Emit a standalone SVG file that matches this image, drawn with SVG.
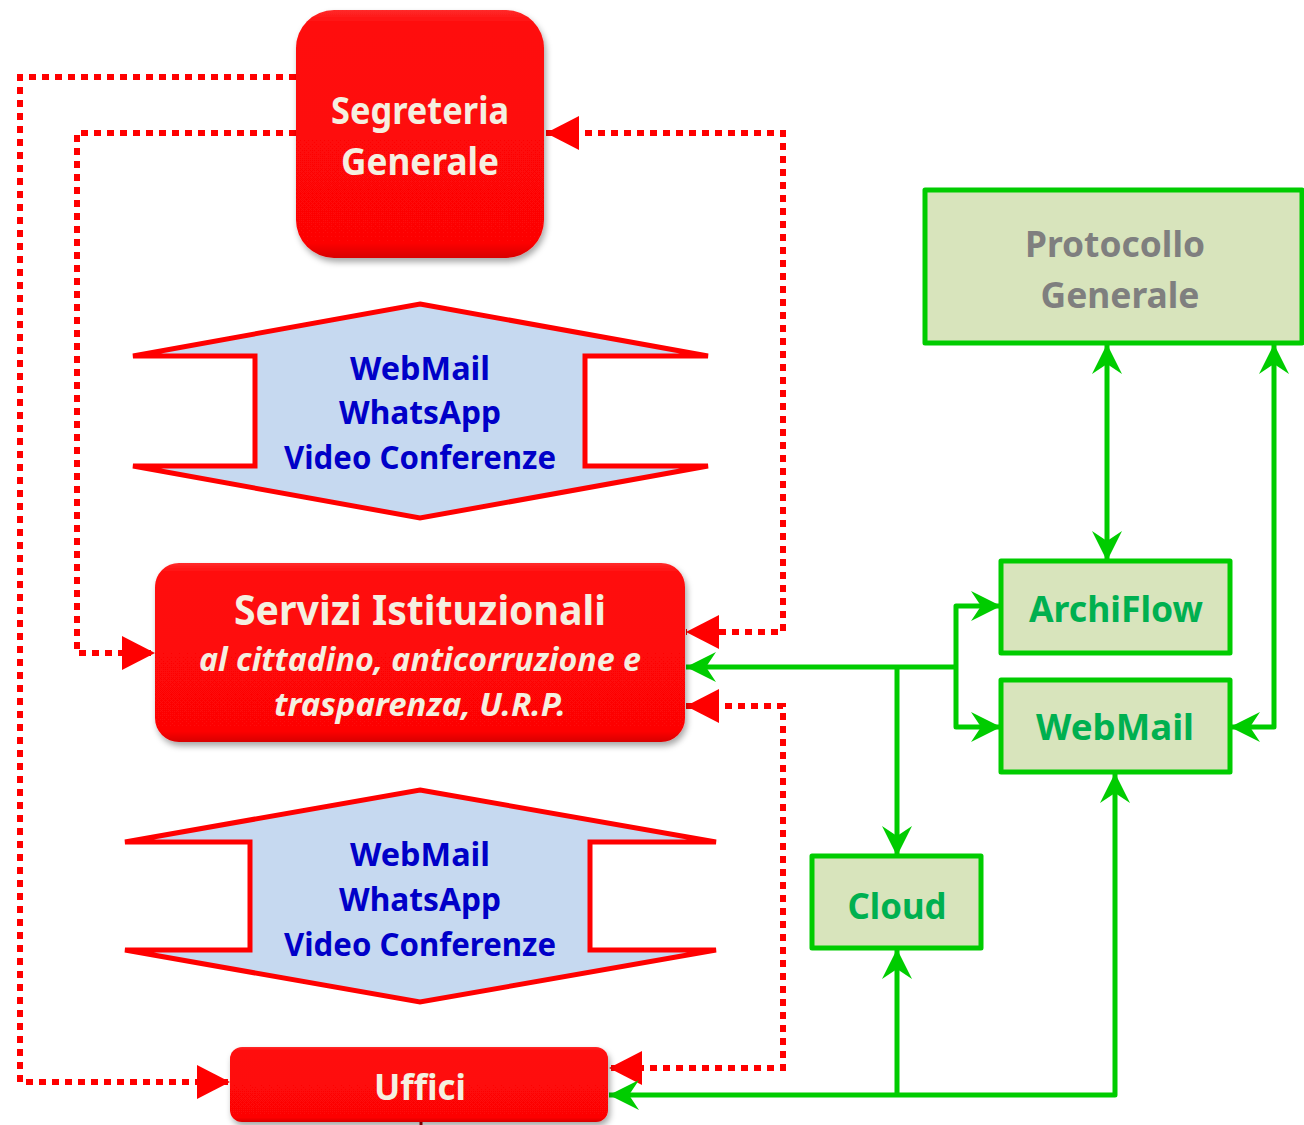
<svg xmlns="http://www.w3.org/2000/svg" width="1304" height="1125" viewBox="0 0 1304 1125">
  <style>
    .red-link { fill: none; stroke: #ff0000; stroke-width: 6; stroke-dasharray: 7 6; }
    .green-link { fill: none; stroke: #00cc00; stroke-width: 5; stroke-linejoin: round; }
    .red-box { fill: url(#redFill); filter: url(#shadow); }
    .green-box { fill: #d8e4bc; stroke: #00cc00; stroke-width: 5; stroke-linejoin: round; }
    .channel { fill: #c6d9f0; stroke: #ff0000; stroke-width: 5; }
    .t { font-family: "Noto Sans", "Open Sans", sans-serif; font-weight: bold; text-anchor: middle; }
    .cream { fill: #f5efe0; }
    .blue { fill: #0000c8; }
    .green { fill: #00b050; }
    .grey { fill: #7f7f7f; }
    .it { font-style: italic; }
  </style>
  <defs>
    <linearGradient id="redFill" x1="0" y1="0" x2="0" y2="1">
      <stop offset="0" stop-color="#ff2a2a"/>
      <stop offset="0.06" stop-color="#ff0808"/>
      <stop offset="0.94" stop-color="#fd0606"/>
      <stop offset="1" stop-color="#d80000"/>
    </linearGradient>
    <filter id="shadow" x="-10%" y="-10%" width="125%" height="130%">
      <feDropShadow dx="2" dy="4" stdDeviation="3" flood-color="#000" flood-opacity="0.35"/>
    </filter>
    <marker id="redHead" markerUnits="userSpaceOnUse" viewBox="-34 -18 36 36" refX="0" refY="0" markerWidth="36" markerHeight="36" orient="auto-start-reverse">
      <path d="M0,0 L-33,-17 L-33,17 Z" fill="#ff0000"/>
    </marker>
    <marker id="greenHead" markerUnits="userSpaceOnUse" viewBox="-32 -16 34 32" refX="0" refY="0" markerWidth="34" markerHeight="32" orient="auto-start-reverse">
      <path d="M0,0 L-30,-15 L-20,0 L-30,15 Z" fill="#00cc00"/>
    </marker>
  </defs>

  <!-- connectors -->
  <g id="connectors">
    <path class="red-link" d="M296,77 H20 V1082 H230" marker-end="url(#redHead)"/>
    <path class="red-link" d="M296,133 H77 V653 H155" marker-end="url(#redHead)"/>
    <path class="red-link" d="M546,133 H783 V632 H686" marker-start="url(#redHead)" marker-end="url(#redHead)"/>
    <path class="red-link" d="M686,706 H783 V1068 H609" marker-start="url(#redHead)" marker-end="url(#redHead)"/>

    <path class="green-link" d="M955,667 H686" marker-end="url(#greenHead)"/>
    <path class="green-link" d="M897,667 V856" marker-end="url(#greenHead)"/>
    <path class="green-link" d="M1001,606 H956 V727 H1001" marker-start="url(#greenHead)" marker-end="url(#greenHead)"/>
    <path class="green-link" d="M1107,561 V344" marker-start="url(#greenHead)" marker-end="url(#greenHead)"/>
    <path class="green-link" d="M1230,727 H1274 V344" marker-start="url(#greenHead)" marker-end="url(#greenHead)"/>
    <path class="green-link" d="M609,1095 H1115 V773" marker-start="url(#greenHead)" marker-end="url(#greenHead)"/>
    <path class="green-link" d="M897,1095 V949" marker-end="url(#greenHead)"/>
    <path d="M421,1120 V1125" stroke="#a00000" stroke-width="3"/>
  </g>

  <g id="segreteria">
    <rect class="red-box" x="296" y="10" width="248" height="248" rx="38"/>
    <text class="t cream" x="420" y="124" font-size="38" textLength="178" lengthAdjust="spacingAndGlyphs">Segreteria</text>
    <text class="t cream" x="420" y="175" font-size="38" textLength="158" lengthAdjust="spacingAndGlyphs">Generale</text>
  </g>

  <g id="canali-1">
    <polygon class="channel" points="420,304 708,356 585,356 585,466 708,466 420,518 133,466 255,466 255,356 133,356"/>
    <text class="t blue" x="420" y="380" font-size="32" textLength="140" lengthAdjust="spacingAndGlyphs">WebMail</text>
    <text class="t blue" x="420" y="424" font-size="32" textLength="162" lengthAdjust="spacingAndGlyphs">WhatsApp</text>
    <text class="t blue" x="420" y="469" font-size="32" textLength="272" lengthAdjust="spacingAndGlyphs">Video Conferenze</text>
  </g>

  <g id="servizi">
    <rect class="red-box" x="155" y="563" width="530" height="179" rx="24"/>
    <text class="t cream" x="420" y="625" font-size="42" textLength="372" lengthAdjust="spacingAndGlyphs">Servizi Istituzionali</text>
    <text class="t cream it" x="420" y="671" font-size="32" textLength="442" lengthAdjust="spacingAndGlyphs">al cittadino, anticorruzione e</text>
    <text class="t cream it" x="420" y="716" font-size="32" textLength="292" lengthAdjust="spacingAndGlyphs">trasparenza, U.R.P.</text>
  </g>

  <g id="canali-2">
    <polygon class="channel" points="420,790 716,842 590,842 590,950 716,950 420,1002 125,950 250,950 250,842 125,842"/>
    <text class="t blue" x="420" y="866" font-size="32" textLength="140" lengthAdjust="spacingAndGlyphs">WebMail</text>
    <text class="t blue" x="420" y="911" font-size="32" textLength="162" lengthAdjust="spacingAndGlyphs">WhatsApp</text>
    <text class="t blue" x="420" y="956" font-size="32" textLength="272" lengthAdjust="spacingAndGlyphs">Video Conferenze</text>
  </g>

  <g id="uffici">
    <rect class="red-box" x="230" y="1047" width="378" height="75" rx="12"/>
    <text class="t cream" x="420" y="1100" font-size="36" textLength="92" lengthAdjust="spacingAndGlyphs">Uffici</text>
  </g>

  <g id="protocollo">
    <rect class="green-box" x="925" y="190" width="377" height="153"/>
    <text class="t grey" x="1115" y="257" font-size="36" textLength="180" lengthAdjust="spacingAndGlyphs">Protocollo</text>
    <text class="t grey" x="1120" y="308" font-size="36" textLength="159" lengthAdjust="spacingAndGlyphs">Generale</text>
  </g>

  <g id="archiflow">
    <rect class="green-box" x="1001" y="561" width="229" height="92"/>
    <text class="t green" x="1116" y="622" font-size="36" textLength="174" lengthAdjust="spacingAndGlyphs">ArchiFlow</text>
  </g>

  <g id="webmail">
    <rect class="green-box" x="1001" y="680" width="229" height="92"/>
    <text class="t green" x="1115" y="740" font-size="36" textLength="158" lengthAdjust="spacingAndGlyphs">WebMail</text>
  </g>

  <g id="cloud">
    <rect class="green-box" x="812" y="856" width="169" height="92"/>
    <text class="t green" x="897" y="919" font-size="36" textLength="99" lengthAdjust="spacingAndGlyphs">Cloud</text>
  </g>
</svg>
